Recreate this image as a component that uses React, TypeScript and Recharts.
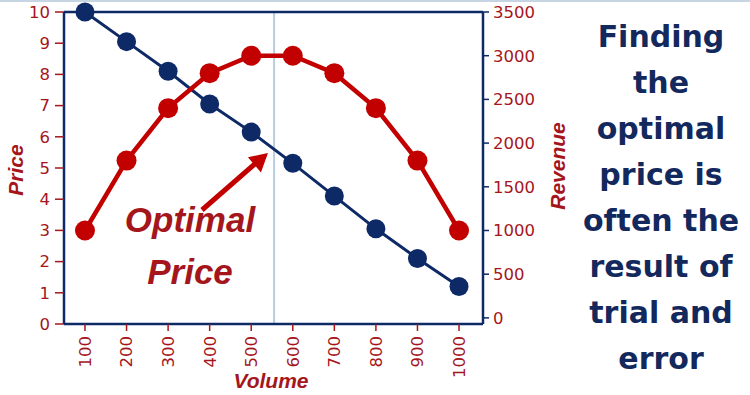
import { LineChart, Line, XAxis, YAxis, ReferenceLine } from "recharts";

const volumes = [100, 200, 300, 400, 500, 600, 700, 800, 900, 1000];
const prices = [10, 9.05, 8.1, 7.05, 6.15, 5.15, 4.1, 3.05, 2.1, 1.2];
const revenues = [1000, 1800, 2400, 2800, 3000, 3000, 2800, 2400, 1800, 1000];
const priceTicks = [0, 1, 2, 3, 4, 5, 6, 7, 8, 9, 10];
const revenueTicks = [0, 500, 1000, 1500, 2000, 2500, 3000, 3500];
const optimalVolume = 555;
const sideText = ["Finding", "the", "optimal", "price is", "often the", "result of", "trial and", "error"];

const data = volumes.map((volume, i) => ({
  volume,
  price: prices[i],
  revenue: revenues[i],
}));

const NAVY = "#0e2a66";
const RED = "#c20000";
const LABEL_RED = "#a5161c";
const TICK_FONT = "'DejaVu Sans', Verdana, sans-serif";
const TITLE_FONT = "'Liberation Sans', Arial, sans-serif";

const VolumeTick = ({ x, y, payload }: any) => (
  <text
    x={x}
    y={y}
    transform={`rotate(-90 ${x} ${y})`}
    textAnchor="end"
    dy="0.36em"
    fill={LABEL_RED}
    fontSize={16.5}
    fontFamily={TICK_FONT}
  >
    {payload.value}
  </text>
);

export default function App() {
  return (
    <div style={{ position: "relative", width: 750, height: 395, background: "#fff", overflow: "hidden" }}>
      <style>{`body{margin:0}`}</style>
      <div style={{ position: "absolute", top: 0, left: 0, width: 750, height: 2, background: "#c7d5e2" }} />
      <LineChart
        width={750}
        height={395}
        data={data}
        margin={{ top: 12, right: 187, bottom: 21, left: 0 }}
      >
        <XAxis
          dataKey="volume"
          type="number"
          domain={[49.5, 1057.7]}
          ticks={volumes}
          height={50}
          axisLine={{ stroke: NAVY, strokeWidth: 2.5 }}
          tickLine={{ stroke: LABEL_RED, strokeWidth: 1.5 }}
          tickSize={7}
          tickMargin={5}
          tick={<VolumeTick />}
          interval={0}
        />
        <YAxis
          yAxisId="left"
          orientation="left"
          domain={[0, 10]}
          ticks={priceTicks}
          width={64}
          interval={0}
          axisLine={{ stroke: NAVY, strokeWidth: 2.5 }}
          tickLine={{ stroke: LABEL_RED, strokeWidth: 1.5 }}
          tickSize={9}
          tickMargin={5}
          tick={{ fill: LABEL_RED, fontSize: 16.5, fontFamily: TICK_FONT }}
        />
        <YAxis
          yAxisId="right"
          orientation="right"
          domain={[-70, 3500]}
          ticks={revenueTicks}
          width={80}
          interval={0}
          axisLine={{ stroke: NAVY, strokeWidth: 2.5 }}
          tickLine={{ stroke: NAVY, strokeWidth: 1.5 }}
          tickSize={6}
          tickMargin={4}
          tick={{ fill: LABEL_RED, fontSize: 16.5, fontFamily: TICK_FONT, textAnchor: "start" }}
        />
        <ReferenceLine yAxisId="left" x={optimalVolume} stroke="#b9cde0" strokeWidth={2} />
        <ReferenceLine yAxisId="left" y={10} stroke={NAVY} strokeWidth={2.5} />
        <Line
          yAxisId="left"
          dataKey="price"
          stroke={NAVY}
          strokeWidth={3}
          dot={{ r: 9.5, fill: NAVY, stroke: NAVY, strokeWidth: 0 }}
          isAnimationActive={false}
        />
        <Line
          yAxisId="right"
          dataKey="revenue"
          stroke={RED}
          strokeWidth={4.5}
          dot={{ r: 10, fill: RED, stroke: RED, strokeWidth: 0 }}
          isAnimationActive={false}
        />
      </LineChart>
      <svg
        width={750}
        height={395}
        style={{ position: "absolute", top: 0, left: 0, pointerEvents: "none" }}
      >
        <g fontFamily={TITLE_FONT} fontWeight="bold" fontStyle="italic" fill={LABEL_RED}>
          <text x={23} y={170} fontSize={21} textAnchor="middle" transform="rotate(-90 23 170)">
            Price
          </text>
          <text x={565} y={166} fontSize={21} textAnchor="middle" transform="rotate(-90 565 166)">
            Revenue
          </text>
          <text x={271} y={388} fontSize={21} textAnchor="middle">
            Volume
          </text>
          <text x={190} y={232} fontSize={35} textAnchor="middle">
            Optimal
          </text>
          <text x={190} y={284} fontSize={35} textAnchor="middle">
            Price
          </text>
        </g>
        <line x1={202} y1={210} x2={256} y2={163} stroke={RED} strokeWidth={5} />
        <polygon points="268,153 260.9,172.4 247.9,157.2" fill={RED} />
      </svg>
      <div
        style={{
          position: "absolute",
          top: 14,
          left: 581,
          width: 160,
          textAlign: "center",
          color: "#13285c",
          fontFamily: TICK_FONT,
          fontWeight: "bold",
          fontSize: 30,
          lineHeight: "46px",
        }}
      >
        {sideText.map((line) => (
          <div key={line} style={{ whiteSpace: "nowrap" }}>
            {line}
          </div>
        ))}
      </div>
    </div>
  );
}
